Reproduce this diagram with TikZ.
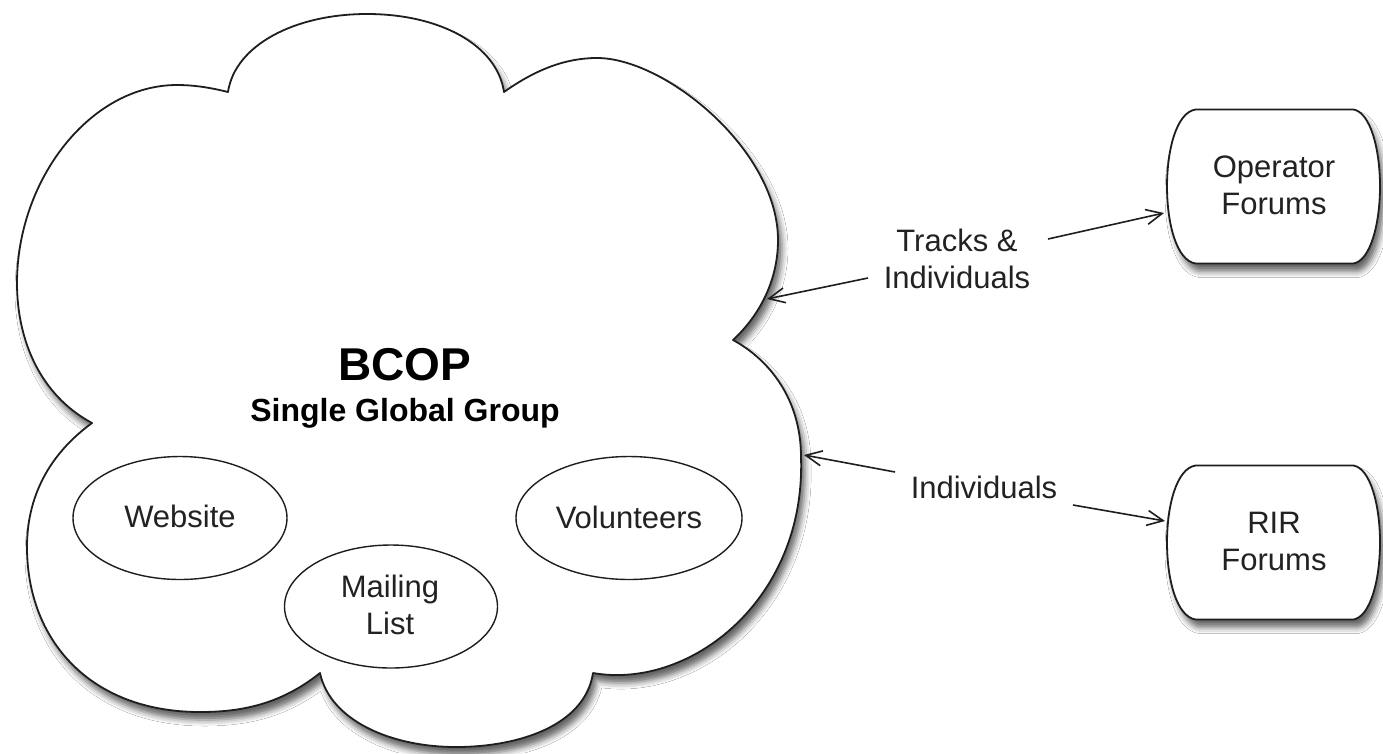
\documentclass[tikz,border=0pt]{standalone}
\usepackage{fontspec}
\setmainfont{Liberation Sans}
\usetikzlibrary{shapes.geometric,arrows.meta,shadows.blur}
\definecolor{ink}{HTML}{1E1E1E}
\definecolor{txt}{HTML}{222222}
\tikzset{
  outline/.style={draw=ink, line width=1.8pt, fill=white, line join=round,
    blur shadow={shadow xshift=4pt, shadow yshift=-8pt, shadow blur radius=6pt, shadow opacity=60}},
  oval/.style={ellipse, draw=ink, line width=1.4pt, fill=white, inner sep=0pt},
  lbl/.style={text=txt, align=center, inner sep=0pt, font=\fontsize{31}{37}\selectfont},
  arr/.style={draw=ink, line width=1.6pt, -{Straight Barb[length=16pt,width=15pt]}},
  forumbox/.pic={
    \draw[outline] (-78,-77) -- (80,-77)
      .. controls (97,-74) and (106.5,-37) .. (106.5,0)
      .. controls (106.5,37) and (97,74) .. (80,77)
      -- (-78,77)
      .. controls (-97,74) and (-106.5,37) .. (-106.5,0)
      .. controls (-106.5,-37) and (-97,-74) .. (-78,-77) -- cycle;
  }
}
\begin{document}
\begin{tikzpicture}[x=1pt,y=-1pt]
\useasboundingbox (0,0) rectangle (1383,753);
\fill[white] (0,0) rectangle (1383,753);

% cloud
\draw[outline] (228,92) .. controls (235,45) and (295,14) .. (367,14)
  .. controls (440,14) and (497,45) .. (504,92)
  .. controls (535,70) and (565,58) .. (597,58)
  .. controls (665,58) and (778,150) .. (778,240)
  .. controls (778,280) and (760,315) .. (733,340)
  .. controls (770,360) and (801,400) .. (801,457)
  .. controls (806,600) and (690,690) .. (593,673)
  .. controls (585,725) and (520,747) .. (456,747)
  .. controls (390,747) and (330,720) .. (320,673)
  .. controls (280,705) and (240,712) .. (200,712)
  .. controls (90,712) and (27,640) .. (27,547)
  .. controls (27,490) and (55,450) .. (92,423)
  .. controls (40,395) and (17,340) .. (17,283)
  .. controls (17,180) and (90,85) .. (177,85)
  .. controls (195,85) and (212,88) .. (228,92) -- cycle;

\node[lbl, text=black, font=\bfseries\fontsize{46}{50}\selectfont] (bcop) at (405,365) {BCOP};
\node[lbl, text=black, font=\bfseries\fontsize{32}{37}\selectfont] (sgg) at (405,413) {Single Global Group};

\node[oval, minimum width=214pt, minimum height=123pt] (web) at (180,518) {};
\node[lbl] (webt) at (180,516) {Website};
\node[oval, minimum width=213pt, minimum height=123pt] (mail) at (391,606.5) {};
\node[lbl] (mailt) at (390,605) {Mailing\\List};
\node[oval, minimum width=226pt, minimum height=123pt] (vol) at (629,518) {};
\node[lbl] (volt) at (629,517) {Volunteers};

% forums
\pic at (1273.5,186.5) {forumbox};
\node[lbl] (opf) at (1274,185) {Operator\\Forums};
\pic at (1273.5,542.5) {forumbox};
\node[lbl] (rir) at (1274,541) {RIR\\Forums};

% labels
\node[lbl] (ti) at (957,259) {Tracks \&\\Individuals};
\node[lbl] (ind) at (984,487) {Individuals};

% connector ends
\coordinate (tiL) at (868,278);
\coordinate (cloudA) at (767,299);
\coordinate (tiR) at (1048,239);
\coordinate (opfA) at (1164,213);
\coordinate (indL) at (895,472);
\coordinate (cloudB) at (804,455);
\coordinate (indR) at (1073,505);
\coordinate (rirA) at (1165,521);

\draw[arr] (tiL) -- (cloudA);
\draw[arr] (tiR) -- (opfA);
\draw[arr] (indL) -- (cloudB);
\draw[arr] (indR) -- (rirA);
\end{tikzpicture}
\end{document}
